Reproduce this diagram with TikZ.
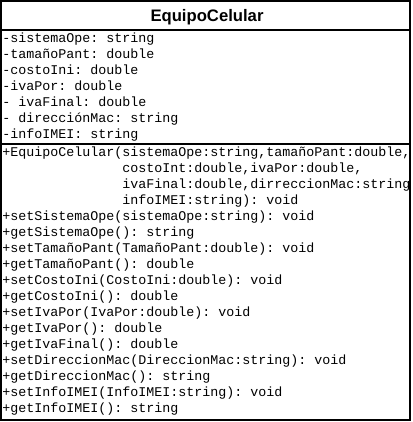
\documentclass[tikz,border=0pt]{standalone}
\usepackage{fontspec}
\setmainfont{Liberation Sans}
\setmonofont{Liberation Mono}
\begin{document}
\begin{tikzpicture}[x=0.75pt,y=-0.75pt,
  boxline/.style={line width=1.5pt,draw=black},
  row/.style={anchor=base west,inner sep=0pt,font=\fontsize{10pt}{12pt}\ttfamily},
  classtitle/.style={anchor=base,inner sep=0pt,font=\fontsize{12.5pt}{15pt}\bfseries}]
\useasboundingbox (0,0) rectangle (412,422);
\fill[white] (0,0) rectangle (412,422);
\begin{scope}
\clip (2,2) rectangle (409,419);
% attributes
\node[row] (a1) at (2,42.5)  {-sistemaOpe: string};
\node[row] (a2) at (2,58.5)  {-tamañoPant: double};
\node[row] (a3) at (2,74.5)  {-costoIni: double};
\node[row] (a4) at (2,90.5)  {-ivaPor: double};
\node[row] (a5) at (2,106.5) {- ivaFinal: double};
\node[row] (a6) at (2,122.5) {- direcciónMac: string};
\node[row] (a7) at (2,138.5) {-infoIMEI: string};
% methods
\node[row] (m1)  at (2,156.5)   {+EquipoCelular(sistemaOpe:string,tamañoPant:double,};
\node[row] (m1b) at (122,172.5) {costoInt:double,ivaPor:double,};
\node[row] (m1c) at (122,188.5) {ivaFinal:double,dirreccionMac:string};
\node[row] (m1d) at (122,204.5) {infoIMEI:string): void};
\node[row] (m2)  at (2,220.5) {+setSistemaOpe(sistemaOpe:string): void};
\node[row] (m3)  at (2,236.5) {+getSistemaOpe(): string};
\node[row] (m4)  at (2,252.5) {+setTamañoPant(TamañoPant:double): void};
\node[row] (m5)  at (2,268.5) {+getTamañoPant(): double};
\node[row] (m6)  at (2,284.5) {+setCostoIni(CostoIni:double): void};
\node[row] (m7)  at (2,300.5) {+getCostoIni(): double};
\node[row] (m8)  at (2,316.5) {+setIvaPor(IvaPor:double): void};
\node[row] (m9)  at (2,332.5) {+getIvaPor(): double};
\node[row] (m10) at (2,348.5) {+getIvaFinal(): double};
\node[row] (m11) at (2,364.5) {+setDireccionMac(DireccionMac:string): void};
\node[row] (m12) at (2,380.5) {+getDireccionMac(): string};
\node[row] (m13) at (2,396.5) {+setInfoIMEI(InfoIMEI:string): void};
\node[row] (m14) at (2,412.5) {+getInfoIMEI(): string};
\end{scope}
\node[classtitle] (title) at (207,21.5) {EquipoCelular};
\draw[boxline] (1,1) rectangle (410,420);
\draw[boxline] (1,29.5) -- (410,29.5);
\draw[boxline] (1,144) -- (410,144);
\end{tikzpicture}
\end{document}
